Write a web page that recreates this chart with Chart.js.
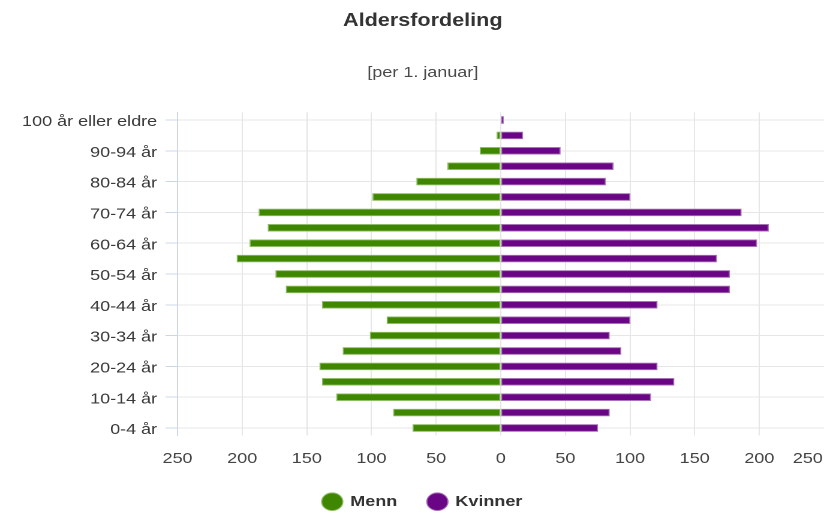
<!DOCTYPE html>
<html><head><meta charset="utf-8">
<script src="https://cdn.jsdelivr.net/npm/chart.js@4.4.1/dist/chart.umd.min.js"></script>
<style>
html,body{margin:0;padding:0;background:#fff;overflow:hidden;}
#wrap{width:687px;height:513px;transform:scaleX(1.19942);transform-origin:0 0;}
</style></head><body>
<div id="wrap"><canvas id="c" width="687" height="513"></canvas></div>
<script>
const ageGroups = ['0-4 år','5-9 år','10-14 år','15-19 år','20-24 år','25-29 år','30-34 år','35-39 år','40-44 år','45-49 år','50-54 år','55-59 år','60-64 år','65-69 år','70-74 år','75-79 år','80-84 år','85-89 år','90-94 år','95-99 år','100 år eller eldre'];
const menn    = [68, 83, 127, 138, 140, 122, 101, 88, 138, 166, 174, 204, 194, 180, 187, 99, 65, 41, 16, 3, 0];
const kvinner = [75, 84, 116, 134, 121, 93, 84, 100, 121, 177, 177, 167, 198, 207, 186, 100, 81, 87, 46, 17, 2];
const seriesNames = ['Menn', 'Kvinner'];
const xMin = -250, xMax = 250, xStep = 50;
const titleText = 'Aldersfordeling';
const subtitleText = '[per 1. januar]';

const FAM = '"Liberation Sans", Arial, Helvetica, sans-serif';

const rightTickLabel = {
  id: 'rightTickLabel',
  afterDraw(chart) {
    const s = chart.scales.x, ctx = chart.ctx;
    ctx.save();
    ctx.font = '15px ' + FAM;
    ctx.fillStyle = '#444444';
    ctx.textAlign = 'right';
    ctx.textBaseline = 'middle';
    ctx.fillText(String(xMax), Math.min(s.getPixelForValue(xMax), chart.width) - 1, s.top + 14 + 9);
    ctx.restore();
  }
};

new Chart(document.getElementById('c'), {
  type: 'bar',
  data: {
    labels: ageGroups,
    datasets: [
      { label: seriesNames[0], data: menn.map(v => -v), backgroundColor: '#3f8700', borderColor: '#8fbc66', borderWidth: 1, borderSkipped: false, barThickness: 7 },
      { label: seriesNames[1], data: kvinner, backgroundColor: '#6a0585', borderColor: '#a873b6', borderWidth: 1, borderSkipped: false, barThickness: 7 }
    ]
  },
  options: {
    indexAxis: 'y',
    responsive: false,
    devicePixelRatio: 2,
    animation: false,
    layout: { padding: { left: 18, right: 0, top: 0, bottom: 0 } },
    plugins: {
      title: { display: true, text: titleText, color: '#333333', font: { family: FAM, size: 18, weight: 'bold' }, padding: { top: 10, bottom: 9 } },
      subtitle: { display: true, text: subtitleText, color: '#4a4a4a', font: { family: FAM, size: 15 }, padding: { top: 23.4, bottom: 30.3 } },
      legend: {
        position: 'bottom', maxHeight: 44.8,
        labels: { usePointStyle: true, pointStyle: 'circle', boxWidth: 15, boxHeight: 12.5, padding: 26, color: '#333333', font: { family: FAM, size: 15, weight: 'bold' } }
      },
      tooltip: { enabled: false }
    },
    scales: {
      x: {
        type: 'linear', min: xMin, max: xMax, stacked: true,
        grid: { color: c => (c.tick && c.tick.value === xMax) ? 'rgba(0,0,0,0)' : '#e6e6e6', drawTicks: false },
        border: { display: false },
        ticks: { stepSize: xStep, padding: 14, color: '#444444', maxRotation: 0, autoSkip: false, font: { family: FAM, size: 15 },
          callback: v => v === xMax ? '' : String(Math.abs(v)) },
        afterFit: s => { s.height = 32.5; s.paddingLeft = 0; s.paddingRight = 0; }
      },
      y: {
        type: 'category', reverse: true, stacked: true,
        grid: { offset: false, color: c => c.index % 2 === 0 ? '#e6e6e6' : 'rgba(0,0,0,0)', tickColor: c => c.index % 2 === 0 ? '#ccd6eb' : 'rgba(0,0,0,0)', tickLength: 10 },
        border: { color: '#ccd6eb', width: 1 },
        ticks: { autoSkip: false, padding: 7, labelOffset: 2, color: '#3a3a3a', font: { family: FAM, size: 15 },
          callback: (v, i) => i % 2 === 0 ? ageGroups[i] : '' },
        afterFit: s => { s.width = 130; }
      }
    }
  },
  plugins: [rightTickLabel]
});
</script>
</body></html>
